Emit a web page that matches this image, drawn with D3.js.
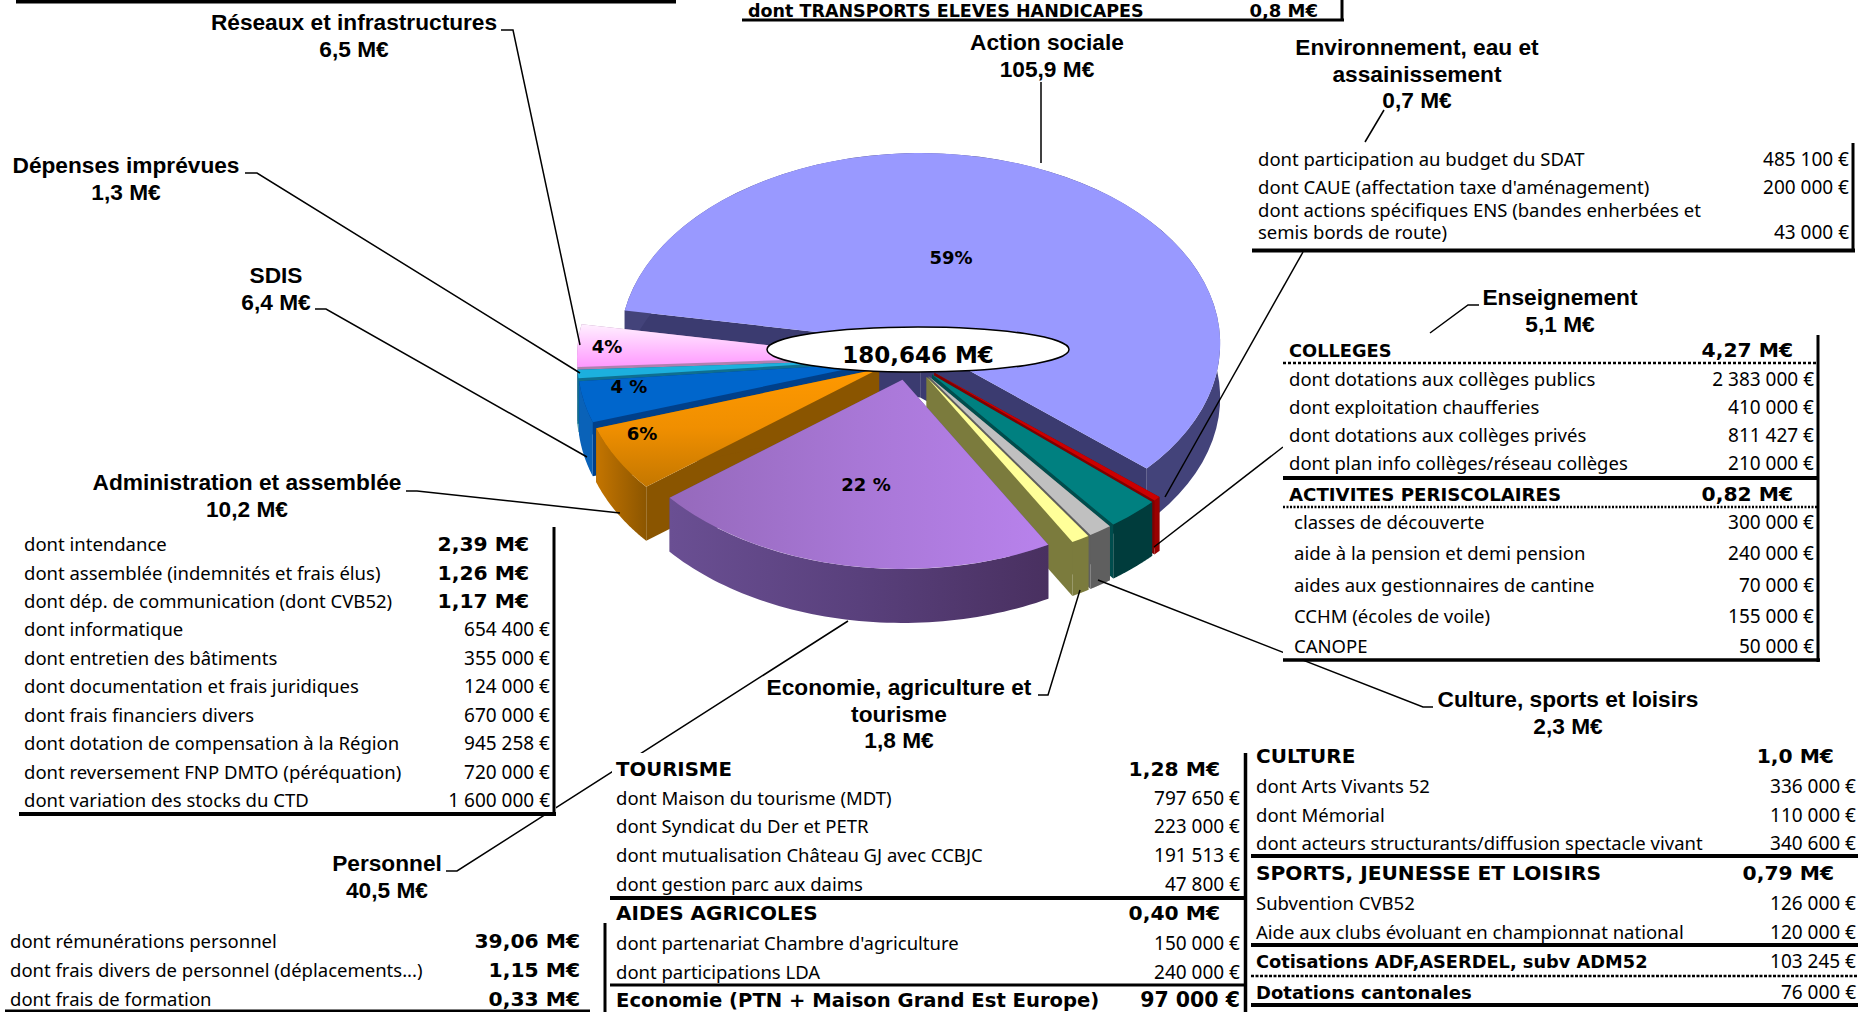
<!DOCTYPE html>
<html>
<head>
<meta charset="utf-8">
<script src="https://cdnjs.cloudflare.com/ajax/libs/d3/7.8.5/d3.min.js"></script>
<style>
  html, body { margin: 0; padding: 0; background: #fff; overflow: hidden; }
  svg { display: block; }
</style>
</head>
<body>
<div id="chart"></div>
<script>
// pie slices, clockwise from the Action sociale slice
const sliceNames = ['Action sociale', 'Environnement', 'Enseignement', 'Culture', 'Economie', 'Personnel', 'Administration', 'SDIS', 'Depenses', 'Reseaux']
const sliceValues = [105.9, 0.7, 5.1, 2.3, 1.8, 40.5, 10.2, 6.4, 1.3, 6.5]
const sliceTops = ['#9999ff', '#cc0000', '#008080', '#c0c0c0', '#ffff99', 'url(#gPurple)', 'url(#gOrange)', '#0066cc', '#1cb0de', 'url(#gPink)']
const sliceWalls = ['#43437a', '#990000', '#003c3c', '#5f5f5f', '#7b7b3d', 'url(#gPurpleWall)', 'url(#gOrangeWall)', '#0a62b8', '#0f6f90', '#b080b0']
const sliceFaces = ['#3b3b70', '#800000', '#004d4d', '#5f5f5f', '#7b7b3d', '#5c4580', '#8a5500', '#00408a', '#0f6f90', '#b080b0']
const drawOrder = [0, 1, 2, 3, 4, 9, 8, 7, 6, 5]

// slice callouts
const calloutLines = [
  ['Réseaux et infrastructures', '6,5 M€'],
  ['Dépenses imprévues', '1,3 M€'],
  ['SDIS', '6,4 M€'],
  ['Administration et assemblée', '10,2 M€'],
  ['Personnel', '40,5 M€'],
  ['Economie, agriculture et', 'tourisme', '1,8 M€'],
  ['Culture, sports et loisirs', '2,3 M€'],
  ['Enseignement', '5,1 M€'],
  ['Environnement, eau et', 'assainissement', '0,7 M€'],
  ['Action sociale', '105,9 M€'],
]
const calloutX = [354, 126, 276, 247, 387, 899, 1568, 1560, 1417, 1047]
const calloutY = [30, 173, 283, 490, 871, 695, 707, 305, 55, 50]

const leaderPaths = [
  [[501, 30], [513, 30], [580, 345]],
  [[245, 173], [257, 173], [580, 373]],
  [[315, 309], [326, 309], [587, 457]],
  [[406, 491], [417, 491], [620, 513]],
  [[446, 871], [457, 871], [848, 621]],
  [[1038, 695], [1048, 695], [1080, 590]],
  [[1433, 707], [1423, 707], [1098, 580]],
  [[1479, 305], [1468, 305], [1430, 333]],
  [[1154, 547], [1283, 447]],
  [[1165, 497], [1303, 252]],
  [[1384, 110], [1365, 142]],
  [[1041, 82], [1041, 163]],
]

const pctLabels = ['59%', '22 %', '4%', '4 %', '6%']
const pctX = [951, 866, 607, 629, 642]
const pctY = [258, 485, 347, 387, 434]
const totalLabel = '180,646 M€'

// detail tables
const adminLabels = ['dont intendance', 'dont assemblée (indemnités et frais élus)', 'dont dép. de communication (dont CVB52)', 'dont informatique', 'dont entretien des bâtiments', 'dont documentation et frais juridiques', 'dont frais financiers divers', 'dont dotation de compensation à la Région', 'dont reversement FNP DMTO (péréquation)', 'dont variation des stocks du CTD']
const adminValues = ['2,39 M€', '1,26 M€', '1,17 M€', '654 400 €', '355 000 €', '124 000 €', '670 000 €', '945 258 €', '720 000 €', '1 600 000 €']
const adminY = [551, 580, 608, 636, 665, 693, 722, 750, 779, 807]

const personnelLabels = ['dont rémunérations personnel', 'dont frais divers de personnel (déplacements...)', 'dont frais de formation']
const personnelValues = ['39,06 M€', '1,15 M€', '0,33 M€']
const personnelY = [948, 977, 1006]

const ecoLabels = ['TOURISME', 'dont Maison du tourisme (MDT)', 'dont Syndicat du Der et PETR', 'dont mutualisation Château GJ avec CCBJC', 'dont gestion parc aux daims', 'AIDES AGRICOLES', 'dont partenariat Chambre d\'agriculture', 'dont participations LDA', 'Economie (PTN + Maison Grand Est Europe)']
const ecoValues = ['1,28 M€', '797 650 €', '223 000 €', '191 513 €', '47 800 €', '0,40 M€', '150 000 €', '240 000 €', '97 000 €']
const ecoY = [776, 805, 833, 862, 891, 920, 950, 979, 1007]

const cultureLabels = ['CULTURE', 'dont Arts Vivants 52', 'dont Mémorial', 'dont acteurs structurants/diffusion spectacle vivant', 'SPORTS, JEUNESSE ET LOISIRS', 'Subvention CVB52', 'Aide aux clubs évoluant en championnat national', 'Cotisations ADF,ASERDEL, subv ADM52', 'Dotations cantonales']
const cultureValues = ['1,0 M€', '336 000 €', '110 000 €', '340 600 €', '0,79 M€', '126 000 €', '120 000 €', '103 245 €', '76 000 €']
const cultureY = [763, 793, 822, 850, 880, 910, 939, 968, 999]

const ensLabels = ['COLLEGES', 'dont dotations aux collèges publics', 'dont exploitation chaufferies', 'dont dotations aux collèges privés', 'dont plan info collèges/réseau collèges', 'ACTIVITES PERISCOLAIRES']
const ensValues = ['4,27 M€', '2 383 000 €', '410 000 €', '811 427 €', '210 000 €', '0,82 M€']
const ensY = [357, 386, 414, 442, 470, 501]
const periLabels = ['classes de découverte', 'aide à la pension et demi pension', 'aides aux gestionnaires de cantine', 'CCHM (écoles de voile)', 'CANOPE']
const periValues = ['300 000 €', '240 000 €', '70 000 €', '155 000 €', '50 000 €']
const periY = [529, 560, 592, 623, 653]

const envLabels = ['dont participation au budget du SDAT', 'dont CAUE (affectation taxe d\'aménagement)', 'dont actions spécifiques ENS (bandes enherbées et', 'semis bords de route)']
const envValues = ['485 100 €', '200 000 €', '', '43 000 €']
const envY = [166, 194, 217, 239]

const transportLabel = 'dont TRANSPORTS ELEVES HANDICAPES'
const transportValue = '0,8 M€'

const width = 1858, height = 1012
const plainFont = '"Noto Sans", sans-serif'
const boldFont = '"DejaVu Sans", sans-serif'
const headFont = '"Liberation Sans", Arial, sans-serif'

const svg = d3.select('#chart').append('svg').attr('width', width).attr('height', height)
const defs = svg.append('defs')

function addGradient(id, x2, y2, stops) {
  const g = defs.append('linearGradient').attr('id', id)
    .attr('x1', 0).attr('y1', 0).attr('x2', x2).attr('y2', y2)
  stops.forEach((c, i) => g.append('stop').attr('offset', i / (stops.length - 1)).attr('stop-color', c))
}
addGradient('gPurple', 1, 0, ['#9569bb', '#a877d6', '#b882ec'])
addGradient('gPurpleWall', 1, 0, ['#6a4f93', '#59407c', '#493060'])
addGradient('gOrange', 0, 1, ['#ff9900', '#f08f00', '#c47700'])
addGradient('gOrangeWall', 1, 0, ['#c47500', '#a86500', '#8c5600'])
addGradient('gPink', 0, 1, ['#fff0ff', '#ffc4ff', '#ff99ff'])

// pie geometry, angles are clockwise from the top
const pieCx = 909, pieCy = 358.5, tilt = 0.635, depth = 54
const sliceRadius = [300, 298, 298, 298, 298, 298, 298, 298, 298, 298]
const sliceExplode = [26, 34, 34, 34, 34, 34, 34, 34, 34, 34]

const pie = d3.pie().sort(null).value(d => d)
  .startAngle(-80 * Math.PI / 180).endAngle(280 * Math.PI / 180)
const slices = pie(sliceValues)

const topArc = d3.arc().innerRadius(0)
const outline = d3.line()

function project(a, r, c, dz) {
  return [c.x + r * Math.sin(a), c.y - r * tilt * Math.cos(a) + dz]
}

const pieG = svg.append('g')
drawOrder.forEach(i => {
  const s = slices[i]
  const r = sliceRadius[i], e = sliceExplode[i]
  const mid = (s.startAngle + s.endAngle) / 2
  const c = { x: pieCx + e * Math.sin(mid), y: pieCy - e * tilt * Math.cos(mid) }
  const g = pieG.append('g')

  // the two straight cut faces
  ;[s.startAngle, s.endAngle].forEach(a => {
    g.append('path')
      .attr('d', outline([[c.x, c.y], project(a, r, c, 0), project(a, r, c, depth), [c.x, c.y + depth]]) + 'Z')
      .attr('fill', sliceFaces[i])
  })

  // outer wall
  const steps = d3.range(0, 61).map(t => s.startAngle + (s.endAngle - s.startAngle) * t / 60)
  const upper = steps.map(a => project(a, r, c, 0))
  const lower = steps.map(a => project(a, r, c, depth)).reverse()
  g.append('path').attr('d', outline(upper.concat(lower)) + 'Z').attr('fill', sliceWalls[i])

  // top
  g.append('path')
    .attr('d', topArc({ startAngle: s.startAngle, endAngle: s.endAngle, outerRadius: r }))
    .attr('transform', `translate(${c.x},${c.y}) scale(1,${tilt})`)
    .attr('fill', sliceTops[i])
})

// total in the middle
svg.append('ellipse')
  .attr('cx', 918).attr('cy', 349.5).attr('rx', 151).attr('ry', 22.5)
  .attr('fill', '#fff').attr('stroke', '#000').attr('stroke-width', 1.5)
svg.append('text').text(totalLabel)
  .attr('x', 918).attr('y', 363).attr('text-anchor', 'middle')
  .style('font', `bold 23px ${boldFont}`)

svg.selectAll('.pct').data(pctLabels).join('text')
  .attr('class', 'pct')
  .attr('x', (d, i) => pctX[i]).attr('y', (d, i) => pctY[i] + 6)
  .attr('text-anchor', 'middle')
  .style('font', `bold 18px ${boldFont}`)
  .text(d => d)

// leaders go under the tables, the white boxes cut them where they cross
svg.append('g').selectAll('path').data(leaderPaths).join('path')
  .attr('d', d => outline(d))
  .attr('fill', 'none').attr('stroke', '#000').attr('stroke-width', 1.5)

calloutLines.forEach((lines, i) => {
  lines.forEach((t, j) => {
    svg.append('text').text(t)
      .attr('x', calloutX[i]).attr('y', calloutY[i] + j * 26.5)
      .attr('text-anchor', 'middle')
      .style('font', `bold 22.7px ${headFont}`)
  })
})

function box(x0, y0, x1, y1) {
  svg.append('rect').attr('x', x0).attr('y', y0).attr('width', x1 - x0).attr('height', y1 - y0).attr('fill', '#fff')
}
function rule(x0, y0, x1, y1, w, dash) {
  const l = svg.append('line').attr('x1', x0).attr('y1', y0).attr('x2', x1).attr('y2', y1)
    .attr('stroke', '#000').attr('stroke-width', w)
  if (dash) l.attr('stroke-dasharray', dash)
}

// section labels and their sizes
const boldLabels = ['COLLEGES', 'ACTIVITES PERISCOLAIRES', 'TOURISME', 'AIDES AGRICOLES', 'Economie (PTN + Maison Grand Est Europe)', 'CULTURE', 'SPORTS, JEUNESSE ET LOISIRS', 'Cotisations ADF,ASERDEL, subv ADM52', 'Dotations cantonales']
const boldSizes = [17.8, 18.2, 19.7, 20, 19.6, 20, 20.2, 17.8, 18]

function rows(labels, values, ys, opt) {
  labels.forEach((t, i) => {
    const b = boldLabels.indexOf(t)
    svg.append('text').text(t)
      .attr('x', opt.left).attr('y', ys[i])
      .style('font', b >= 0 ? `bold ${boldSizes[b]}px ${boldFont}` : `18.5px ${plainFont}`)
  })
  values.forEach((v, i) => {
    const big = v.endsWith('M€')
    svg.append('text').text(v)
      .attr('x', big ? opt.bigRight : opt.right).attr('y', ys[i])
      .attr('text-anchor', 'end')
      .style('font', big ? `bold 20.3px ${boldFont}` : (v === '97 000 €' ? `bold 20.5px ${boldFont}` : `19px ${plainFont}`))
  })
}

// top edge, the tables above are cut by the picture
rule(16, 1.5, 676, 1.5, 4)
svg.append('text').text(transportLabel).attr('x', 748).attr('y', 16.5).style('font', `bold 17.5px ${boldFont}`)
svg.append('text').text(transportValue).attr('x', 1318).attr('y', 16.7).attr('text-anchor', 'end').style('font', `bold 18px ${boldFont}`)
rule(742, 20, 1344, 20, 3)
rule(1342, 0, 1342, 21, 3)

// environnement
box(1252, 143, 1855, 252)
rows(envLabels, envValues, envY, { left: 1258, right: 1849 })
rule(1853, 143, 1853, 251, 3)
rule(1252, 250.5, 1855, 250.5, 4)

// enseignement
box(1283, 335, 1820, 661)
rows(ensLabels, ensValues, ensY, { left: 1289, right: 1814, bigRight: 1793 })
rows(periLabels, periValues, periY, { left: 1294, right: 1814, bigRight: 1793 })
rule(1818, 335, 1818, 662, 3)
rule(1283, 363, 1818, 363, 2.5, '3,2')
rule(1283, 478, 1818, 478, 4)
rule(1283, 507, 1818, 507, 2.5, '2,1.5')
rule(1283, 660, 1820, 660, 3.5)

// administration
box(19, 527, 556, 815)
rows(adminLabels, adminValues, adminY, { left: 24, right: 550, bigRight: 529 })
rule(554, 527, 554, 815, 3)
rule(19, 814, 556, 814, 4)

// personnel
rows(personnelLabels, personnelValues, personnelY, { left: 10, right: 580, bigRight: 580 })
rule(5, 1011, 590, 1011, 3)

// economie
box(612, 753, 1245, 1012)
rows(ecoLabels, ecoValues, ecoY, { left: 616, right: 1240, bigRight: 1220 })
rule(1245, 753, 1245, 1012, 2.5)
rule(605, 923, 605, 1012, 3)
rule(610, 898, 1245, 898, 4)
rule(610, 985, 1245, 985, 3)

// culture, sports
rows(cultureLabels, cultureValues, cultureY, { left: 1256, right: 1856, bigRight: 1834 })
rule(1246, 753, 1246, 1012, 2.5)
rule(1251, 856, 1858, 856, 4)
rule(1251, 945, 1858, 945, 4)
rule(1251, 976, 1858, 976, 2.5, '3,1.5')
rule(1251, 1005, 1858, 1005, 4)
</script>
</body>
</html>
